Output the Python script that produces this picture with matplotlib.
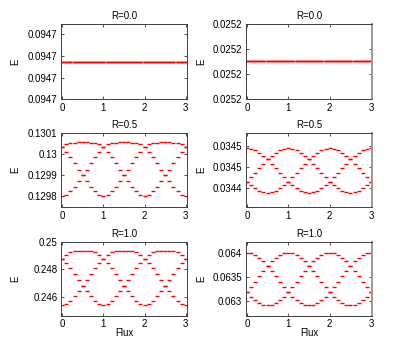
import matplotlib
matplotlib.use('Agg')
import matplotlib.pyplot as plt
from matplotlib.ticker import FuncFormatter

plt.rcParams['font.family'] = ['Liberation Sans', 'DejaVu Sans']

# Flux grid (x values, step 0.1)
flux = [0.0, 0.1, 0.2, 0.3, 0.4, 0.5, 0.6, 0.7, 0.8, 0.9, 1.0,
        1.1, 1.2, 1.3, 1.4, 1.5, 1.6, 1.7, 1.8, 1.9, 2.0,
        2.1, 2.2, 2.3, 2.4, 2.5, 2.6, 2.7, 2.8, 2.9, 3.0]

# R = 0.0 : all levels flat
e_r00_left = [0.0947123, 0.0947123, 0.0947123, 0.0947123, 0.0947123, 0.0947123, 0.0947123,
              0.0947123, 0.0947123, 0.0947123, 0.0947123, 0.0947123, 0.0947123, 0.0947123,
              0.0947123, 0.0947123, 0.0947123, 0.0947123, 0.0947123, 0.0947123, 0.0947123,
              0.0947123, 0.0947123, 0.0947123, 0.0947123, 0.0947123, 0.0947123, 0.0947123,
              0.0947123, 0.0947123, 0.0947123]
e_r00_right = [0.0252147, 0.0252147, 0.0252147, 0.0252147, 0.0252147, 0.0252147, 0.0252147,
               0.0252147, 0.0252147, 0.0252147, 0.0252147, 0.0252147, 0.0252147, 0.0252147,
               0.0252147, 0.0252147, 0.0252147, 0.0252147, 0.0252147, 0.0252147, 0.0252147,
               0.0252147, 0.0252147, 0.0252147, 0.0252147, 0.0252147, 0.0252147, 0.0252147,
               0.0252147, 0.0252147, 0.0252147]

# R = 0.5, left column (three levels)
e_r05_left_a = [0.129800, 0.129806, 0.129822, 0.129845, 0.129873, 0.129900, 0.129925, 0.129958,
                0.129988, 0.130011, 0.130036, 0.130046, 0.130052, 0.130055, 0.130056, 0.130056,
                0.130056, 0.130055, 0.130052, 0.130046, 0.130036, 0.130011, 0.129988, 0.129958,
                0.129925, 0.129900, 0.129873, 0.129845, 0.129822, 0.129806, 0.129800]
e_r05_left_b = [0.130036, 0.130046, 0.130052, 0.130055, 0.130056, 0.130056, 0.130056, 0.130055,
                0.130052, 0.130046, 0.130036, 0.130011, 0.129988, 0.129958, 0.129925, 0.129900,
                0.129873, 0.129845, 0.129822, 0.129806, 0.129800, 0.129806, 0.129822, 0.129845,
                0.129873, 0.129900, 0.129925, 0.129958, 0.129988, 0.130011, 0.130036]
e_r05_left_c = [0.130036, 0.130011, 0.129988, 0.129958, 0.129925, 0.129900, 0.129873, 0.129845,
                0.129822, 0.129806, 0.129800, 0.129806, 0.129822, 0.129845, 0.129873, 0.129900,
                0.129925, 0.129958, 0.129988, 0.130011, 0.130036, 0.130046, 0.130052, 0.130055,
                0.130056, 0.130056, 0.130056, 0.130055, 0.130052, 0.130046, 0.130036]

# R = 0.5, right column
e_r05_right_a = [0.034478, 0.0344775, 0.0344762, 0.034474, 0.0344711, 0.0344675, 0.0344635, 0.0344592,
                 0.0344548, 0.0344505, 0.0344465, 0.0344429, 0.03444, 0.0344378, 0.0344365, 0.034436,
                 0.0344365, 0.0344378, 0.03444, 0.0344429, 0.0344465, 0.0344505, 0.0344548, 0.0344592,
                 0.0344635, 0.0344675, 0.0344711, 0.034474, 0.0344762, 0.0344775, 0.034478]
e_r05_right_b = [0.0344465, 0.0344429, 0.03444, 0.0344378, 0.0344365, 0.034436, 0.0344365, 0.0344378,
                 0.03444, 0.0344429, 0.0344465, 0.0344505, 0.0344548, 0.0344592, 0.0344635, 0.0344675,
                 0.0344711, 0.034474, 0.0344762, 0.0344775, 0.034478, 0.0344775, 0.0344762, 0.034474,
                 0.0344711, 0.0344675, 0.0344635, 0.0344592, 0.0344548, 0.0344505, 0.0344465]
e_r05_right_c = [0.0344465, 0.0344505, 0.0344548, 0.0344592, 0.0344635, 0.0344675, 0.0344711, 0.034474,
                 0.0344762, 0.0344775, 0.034478, 0.0344775, 0.0344762, 0.034474, 0.0344711, 0.0344675,
                 0.0344635, 0.0344592, 0.0344548, 0.0344505, 0.0344465, 0.0344429, 0.03444, 0.0344378,
                 0.0344365, 0.034436, 0.0344365, 0.0344378, 0.03444, 0.0344429, 0.0344465]

# R = 1.0, left column
e_r10_left_a = [0.24540, 0.24547, 0.24571, 0.24605, 0.24644, 0.24680, 0.24720, 0.24766,
                0.24812, 0.24848, 0.24872, 0.24903, 0.24923, 0.24932, 0.24935, 0.24936,
                0.24935, 0.24932, 0.24923, 0.24903, 0.24872, 0.24848, 0.24812, 0.24766,
                0.24720, 0.24680, 0.24644, 0.24605, 0.24571, 0.24547, 0.24540]
e_r10_left_b = [0.24872, 0.24903, 0.24923, 0.24932, 0.24935, 0.24936, 0.24935, 0.24932,
                0.24923, 0.24903, 0.24872, 0.24848, 0.24812, 0.24766, 0.24720, 0.24680,
                0.24644, 0.24605, 0.24571, 0.24547, 0.24540, 0.24547, 0.24571, 0.24605,
                0.24644, 0.24680, 0.24720, 0.24766, 0.24812, 0.24848, 0.24872]
e_r10_left_c = [0.24872, 0.24848, 0.24812, 0.24766, 0.24720, 0.24680, 0.24644, 0.24605,
                0.24571, 0.24547, 0.24540, 0.24547, 0.24571, 0.24605, 0.24644, 0.24680,
                0.24720, 0.24766, 0.24812, 0.24848, 0.24872, 0.24903, 0.24923, 0.24932,
                0.24935, 0.24936, 0.24935, 0.24932, 0.24923, 0.24903, 0.24872]

# R = 1.0, right column
e_r10_right_a = [0.064, 0.063988, 0.063952, 0.063895, 0.063818, 0.063725, 0.06362, 0.063508,
                 0.063392, 0.06328, 0.063175, 0.063082, 0.063005, 0.062948, 0.062912, 0.0629,
                 0.062912, 0.062948, 0.063005, 0.063082, 0.063175, 0.06328, 0.063392, 0.063508,
                 0.06362, 0.063725, 0.063818, 0.063895, 0.063952, 0.063988, 0.064]
e_r10_right_b = [0.063175, 0.063082, 0.063005, 0.062948, 0.062912, 0.0629, 0.062912, 0.062948,
                 0.063005, 0.063082, 0.063175, 0.06328, 0.063392, 0.063508, 0.06362, 0.063725,
                 0.063818, 0.063895, 0.063952, 0.063988, 0.064, 0.063988, 0.063952, 0.063895,
                 0.063818, 0.063725, 0.06362, 0.063508, 0.063392, 0.06328, 0.063175]
e_r10_right_c = [0.063175, 0.06328, 0.063392, 0.063508, 0.06362, 0.063725, 0.063818, 0.063895,
                 0.063952, 0.063988, 0.064, 0.063988, 0.063952, 0.063895, 0.063818, 0.063725,
                 0.06362, 0.063508, 0.063392, 0.06328, 0.063175, 0.063082, 0.063005, 0.062948,
                 0.062912, 0.0629, 0.062912, 0.062948, 0.063005, 0.063082, 0.063175]

titles = ['R=0.0', 'R=0.5', 'R=1.0']
x_ticks = [0, 1, 2, 3]


def matlab_fmt(v, pos):
    s = '%.4f' % v
    return s.rstrip('0').rstrip('.')


def style_axis(ax, title, right_col):
    ax.set_xlim(-0.03, 3.03)
    ax.set_xticks(x_ticks)
    ax.tick_params(direction='in', length=2.5, width=0.6, labelsize=7, pad=2.5,
                   top=True, right=True, colors='#333333', labelcolor='black')
    ax.yaxis.set_major_formatter(FuncFormatter(matlab_fmt))
    for sp in ax.spines.values():
        sp.set_color('#404040')
        sp.set_linewidth(0.7)
    if right_col:
        ax.spines['right'].set_color('#9a9a9a')
        ax.spines['right'].set_linewidth(1.4)
    ax.set_title(title, fontsize=7, pad=3.5)
    ax.set_ylabel('E', fontsize=7)
    ax.yaxis.set_label_coords(-0.31 if right_col else -0.325, 0.5)


fig = plt.figure(figsize=(3.99, 3.58), dpi=100)

lefts = [0.1529, 0.6158]
widths = [0.3158, 0.3173]
rows = [(0.7226, 0.2095), (0.4209, 0.2089), (0.1173, 0.2075)]

panels = [
    [[e_r00_left, e_r00_left, e_r00_left],
     [e_r00_right, e_r00_right, e_r00_right]],
    [[e_r05_left_a, e_r05_left_b, e_r05_left_c],
     [e_r05_right_a, e_r05_right_b, e_r05_right_c]],
    [[e_r10_left_a, e_r10_left_b, e_r10_left_c],
     [e_r10_right_a, e_r10_right_b, e_r10_right_c]],
]

d = 1e-9
ylims = [
    [(0.0947123 - 1.725 * d, 0.0947123 + 1.715 * d), (0.0252147 - 1.53 * d, 0.0252147 + 1.47 * d)],
    [(0.129746, 0.130103), (0.034422, 0.034493)],
    [(0.2446, 0.25), (0.062677, 0.064225)],
]
yticks = [
    [[0.0947123 - 1.725 * d + k * d for k in range(4)],
     [0.0252147 - 1.53 * d + k * d for k in range(4)]],
    [[0.1298, 0.1299, 0.13, 0.1301], [0.03444, 0.03446, 0.03448]],
    [[0.246, 0.248, 0.25], [0.063, 0.0635, 0.064]],
]

for r, (bottom, height) in enumerate(rows):
    for c in range(2):
        ax = fig.add_axes([lefts[c], bottom, widths[c], height])
        for band in panels[r][c]:
            ax.plot(flux, band, linestyle='none', marker='_', markersize=2.3,
                    markeredgewidth=1.0, color='#ff0000')
        ax.set_ylim(*ylims[r][c])
        ax.set_yticks(yticks[r][c])
        style_axis(ax, titles[r], c == 1)
        if r == 2:
            ax.set_xlabel('Flux', fontsize=7)
            ax.xaxis.set_label_coords(0.5, -0.16)

fig.savefig('out.png', dpi=100)
